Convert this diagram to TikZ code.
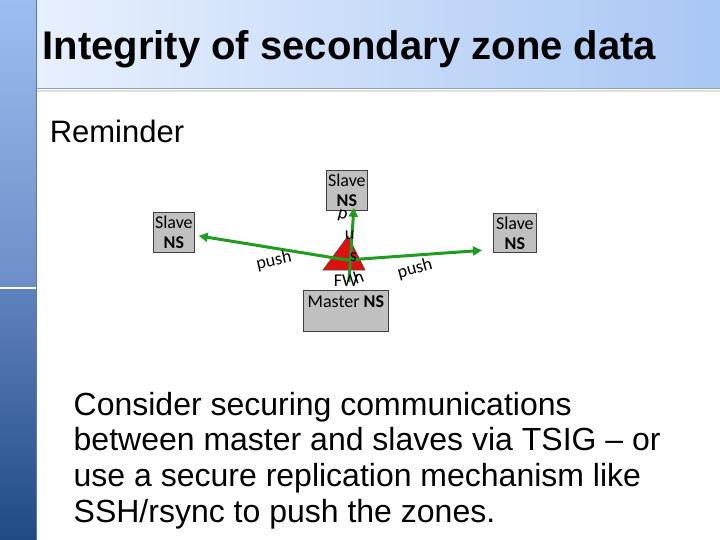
\documentclass[tikz,border=0pt]{standalone}
\usepackage{fontspec}
\setmainfont{Liberation Sans}
\newfontfamily\carlito{Carlito}
\usetikzlibrary{arrows.meta}
\definecolor{nsgray}{HTML}{C0C0C0}
\definecolor{titleL}{HTML}{E8F0FD}
\definecolor{titleR}{HTML}{A9C7F4}
\definecolor{titleline}{HTML}{8AA3C6}
\definecolor{barA}{HTML}{9CBEF0}
\definecolor{barB}{HTML}{6C8DC7}
\definecolor{barC}{HTML}{6083BF}
\definecolor{barD}{HTML}{1F4A84}
\definecolor{baredge}{HTML}{5878AE}
\definecolor{pushgreen}{HTML}{1E9E1E}
\definecolor{trired}{HTML}{E01010}
\tikzset{
  nsbox/.style={draw=black!75, fill=nsgray, line width=0.75pt, inner sep=0pt,
    font=\carlito\fontsize{18}{20}\selectfont, align=center},
  pushline/.style={draw=pushgreen, line width=3pt, -{Triangle[length=9pt,width=9pt]}},
  pushtext/.style={font=\carlito\fontsize{18}{20}\selectfont, inner sep=0pt},
  bodytext/.style={font=\fontsize{32}{36}\selectfont, anchor=base west, inner sep=0pt}
}
\begin{document}
\begin{tikzpicture}[x=1pt,y=-1pt]
\useasboundingbox (0,0) rectangle (720,540);
\fill[white] (0,0) rectangle (720,540);
% title bar
\shade[left color=titleL, right color=titleR] (36,0) rectangle (720,89);
\draw[black!12, line width=2.5pt] (37,91) -- (720,91);
\draw[titleline, line width=1pt] (36,89) -- (720,89);
% left bar
\shade[top color=barA, bottom color=barB] (0,0) rectangle (36,288);
\shade[top color=barC, bottom color=barD] (0,288) rectangle (36,540);
\draw[white, line width=1.2pt] (0,288) -- (36,288);
\draw[baredge, line width=1pt] (36,0) -- (36,540);
% title
\node[anchor=base west, inner sep=0pt, font=\bfseries\fontsize{40}{44}\selectfont] (title) at (42.4,60) {Integrity of secondary zone data};
\node[anchor=base west, inner sep=0pt, font=\fontsize{31}{36}\selectfont] (reminder) at (49.6,143) {Reminder};
% boxes
\node[nsbox, anchor=north west, minimum width=41pt, minimum height=40pt] (lslave) at (153,212) {Slave\\\textbf{NS}};
\node[nsbox, anchor=north west, minimum width=41pt, minimum height=40pt] (tslave) at (326,170) {Slave\\\textbf{NS}};
\node[nsbox, anchor=north west, minimum width=43pt, minimum height=39pt] (rslave) at (493,213) {Slave\\\textbf{NS}};
\node[nsbox, anchor=north west, minimum width=85pt, text height=16.7pt, text depth=24.3pt] (master) at (303,290) {Master \textbf{NS}};
% triangle
\draw[fill=trired, draw=black!70, line width=0.6pt] (348,236) -- (365,270) -- (323,270) -- cycle;
\coordinate (C) at (347,260);
\coordinate (V) at ([shift={(3,-8)}]master.north);
% arrows
\draw[pushline] (C) -- ([shift={(4,3.5)}]lslave.east);
\draw[pushline] (C) -- ([shift={(-11,17.5)}]rslave.west);
\draw[pushline] (V) -- ([shift={(7,-3)}]tslave.south);
% labels
\node[pushtext, rotate=12] (pl) at (274,261) {push};
\node[pushtext, rotate=15] (pr) at (415,269) {push};
\node[pushtext, rotate=-15] (p1) at (342.5,216) {p};
\node[pushtext] (p2) at (349.5,235) {u};
\node[pushtext] (p3) at (353.5,257.5) {s};
\node[pushtext, rotate=20] (p4) at (358.5,277.5) {h};
\node[pushtext] (fw) at (346,281) {FW};
% body
\node[bodytext] (l1) at (73.5,415) {Consider securing communications};
\node[bodytext] (l2) at (73.5,450.7) {between master and slaves via TSIG – or};
\node[bodytext] (l3) at (73.5,486.3) {use a secure replication mechanism like};
\node[bodytext] (l4) at (73.5,522) {SSH/rsync to push the zones.};
\end{tikzpicture}
\end{document}
